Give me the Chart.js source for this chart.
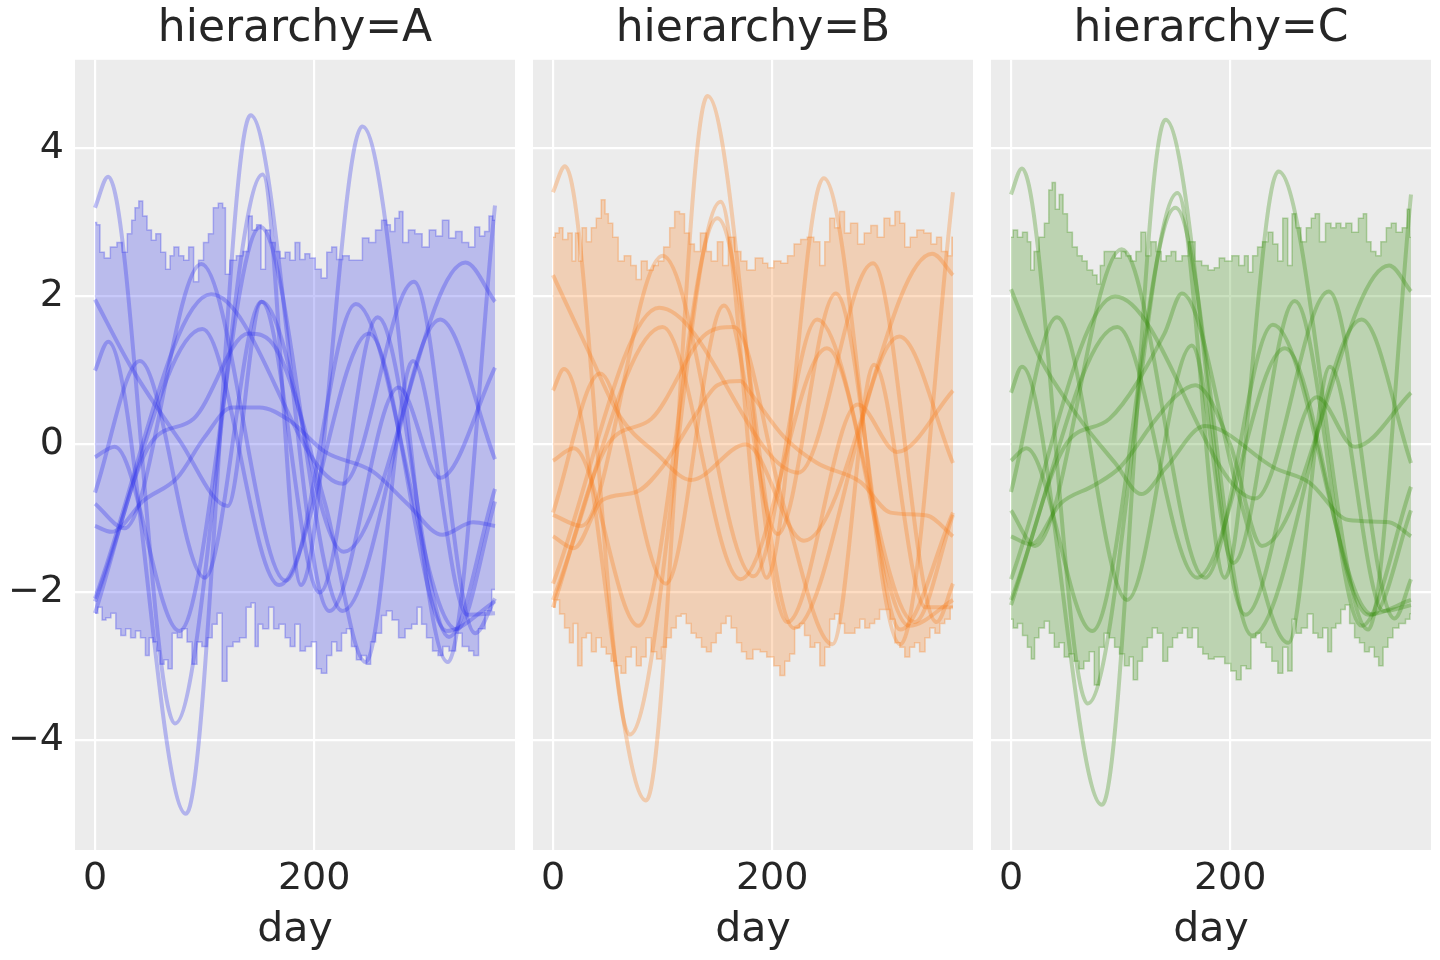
<!DOCTYPE html>
<html>
<head>
<meta charset="utf-8">
<script src="https://cdn.jsdelivr.net/npm/chart.js@4.4.1/dist/chart.umd.min.js"></script>
<style>
    body {margin: 0; background: #fff; width: 1440px; height: 960px; position: relative; overflow: hidden}
    canvas {position: absolute; top: 0}
</style>
</head>
<body>
<canvas id="panelA" width="520" height="960" style="left:0px"></canvas>
<canvas id="panelB" width="445" height="960" style="left:533px"></canvas>
<canvas id="panelC" width="449" height="960" style="left:991px"></canvas>
<script>

// DATA -----------------------------------------------------------------------

const dayTicks = [0, 200]
const valueTicks = [-4, -2, 0, 2, 4]
const panelTitles = ['hierarchy=A', 'hierarchy=B', 'hierarchy=C']

// sample curves, [day, value] (extremes + a few in between)
const linesA = [
    [[0,3.2],[12,3.62],[73,-3.77],[153,3.65],[188,-1.9],[244,4.3],[322,-2.94],[365,3.23]],
    [[0,1.0],[12,1.39],[83,-4.99],[142,4.45],[214,-2.25],[277,0.77],[315,-0.45],[365,1.04]],
    [[0,1.96],[32,1.07],[77,0.06],[121,-0.83],[152,1.93],[227,-1.45],[338,2.46],[365,1.93]],
    [[0,-0.17],[18,-0.03],[77,-2.52],[151,2.94],[226,-2.25],[315,1.69],[365,-0.2]],
    [[0,-0.65],[41,1.13],[100,-1.8],[152,1.93],[205,-2.0],[258,1.72],[323,-2.6],[365,-0.6]],
    [[0,-0.8],[27,-1.13],[97,2.44],[174,-1.84],[238,1.9],[330,-2.5],[365,-0.77]],
    [[0,-1.1],[15,-1.18],[45,-0.75],[75,-0.45],[100,0.1],[125,0.5],[150,0.5],[177,0.33],[210,-0.1],[253,-0.36],[285,-0.8],[317,-1.22],[345,-1.05],[365,-1.1]],
    [[0,-2.08],[106,2.03],[226,-0.53],[291,2.2],[347,-2.55],[365,-2.08]],
    [[0,-2.12],[98,1.56],[168,-1.9],[250,1.5],[321,-2.52],[365,-2.12]],
    [[0,-2.28],[50,0.0],[90,0.35],[140,1.5],[165,1.3],[210,-0.8],[247,-2.94],[290,1.13],[340,-2.3],[365,-2.28]]
]
const linesB = [
    [[0,3.41],[11,3.76],[70,-3.92],[153,3.28],[195,-1.8],[247,3.6],[317,-2.7],[365,3.41]],
    [[0,0.73],[10,1.02],[85,-4.81],[141,4.71],[214,-2.4],[278,0.54],[314,-0.1],[365,0.73]],
    [[0,2.29],[34,1.21],[61,0.38],[95,-0.13],[126,-0.48],[176,0.0],[229,-1.3],[346,2.58],[365,2.29]],
    [[0,-0.22],[19,-0.05],[78,-2.45],[150,3.06],[220,-2.48],[316,1.46],[365,-0.25]],
    [[0,-0.92],[43,0.96],[103,-1.88],[156,1.88],[205,-1.21],[258,2.04],[317,-2.5],[365,-0.92]],
    [[0,-0.95],[26,-1.1],[100,2.55],[183,-1.78],[241,1.69],[330,-2.4],[365,-0.95]],
    [[0,-1.24],[19,-1.4],[45,-0.75],[76,-0.64],[100,-0.3],[130,0.4],[150,0.8],[171,0.86],[180,0.7],[211,0.1],[241,-0.25],[281,-0.51],[308,-0.92],[341,-0.96],[365,-1.24]],
    [[0,-1.88],[97,1.85],[224,-0.38],[292,2.45],[350,-2.4],[365,-1.88]],
    [[0,-2.1],[100,1.59],[171,-1.82],[250,1.3],[325,-2.45],[365,-2.1]],
    [[0,-2.2],[50,0.0],[90,0.35],[140,1.5],[165,1.59],[210,-0.8],[255,-2.7],[293,1.08],[340,-2.2],[365,-2.2]]
]
const linesC = [
    [[0,3.38],[10,3.73],[70,-3.5],[152,3.4],[195,-1.8],[244,3.69],[326,-2.5],[365,3.38]],
    [[0,0.7],[10,1.05],[83,-4.87],[141,4.39],[214,-2.3],[279,0.64],[314,-0.03],[365,0.7]],
    [[0,2.1],[25,1.21],[64,0.32],[95,-0.25],[119,-0.67],[141,-0.32],[177,0.25],[241,-0.32],[272,-0.51],[308,-1.02],[345,-1.05],[365,-1.24]],
    [[0,-0.22],[14,-0.05],[74,-2.52],[150,3.2],[220,-2.58],[320,1.69],[365,-0.25]],
    [[0,-0.64],[42,1.72],[106,-2.1],[165,1.34],[203,-1.6],[259,1.94],[320,-2.45],[365,-0.57]],
    [[0,-0.89],[22,-1.37],[101,2.64],[177,-1.8],[239,1.62],[330,-2.3],[365,-0.89]],
    [[0,-1.24],[18,-1.35],[45,-0.8],[76,-0.55],[100,-0.3],[130,0.3],[150,0.65],[168,0.8],[200,0.0],[229,-1.37],[345,2.42],[365,2.07]],
    [[0,-1.82],[95,2.0],[223,-0.73],[290,2.07],[350,-2.35],[365,-1.82]],
    [[0,-2.1],[97,1.59],[170,-1.8],[250,1.3],[326,-2.3],[365,-2.1]],
    [[0,-2.17],[50,0.0],[90,0.35],[140,1.5],[156,2.04],[210,-0.8],[253,-2.68],[291,1.05],[340,-2.25],[365,-2.17]]
]

// band edges, [day, value]
const bandA_hi = [[0,3.0],[3,2.97],[6,2.6],[11,2.52],[17,2.67],[23,2.73],[27,2.6],[32,2.85],[35,3.03],[38,3.2],[42,3.29],[45,3.09],[50,2.9],[53,2.76],[58,2.85],[62,2.6],[67,2.37],[70,2.55],[74,2.67],[79,2.55],[83,2.49],[88,2.67],[92,2.2],[97,2.49],[101,2.73],[106,2.85],[110,3.2],[115,3.26],[118,3.2],[120,2.3],[126,2.49],[132,2.55],[138,2.61],[142,3.09],[145,2.9],[150,2.97],[153,2.37],[158,2.9],[162,2.73],[167,2.61],[171,2.52],[176,2.6],[180,2.49],[185,2.73],[189,2.5],[194,2.58],[198,2.52],[204,2.37],[209,2.25],[214,2.6],[218,2.67],[223,2.5],[229,2.55],[235,2.49],[241,2.49],[247,2.79],[253,2.73],[259,2.9],[264,3.03],[268,2.97],[271,2.88],[276,3.06],[279,3.15],[283,2.73],[289,2.9],[295,2.85],[302,2.67],[308,2.9],[314,2.82],[320,3.03],[326,2.79],[332,2.88],[338,2.73],[344,2.67],[349,2.94],[353,2.82],[358,2.88],[361,3.09],[365,3.03]]
const bandA_lo = [[0,-2.28],[5,-2.2],[8,-2.37],[12,-2.34],[17,-2.28],[21,-2.49],[26,-2.58],[30,-2.49],[35,-2.61],[39,-2.52],[44,-2.61],[48,-2.85],[51,-2.61],[55,-2.67],[58,-2.79],[61,-2.97],[65,-2.91],[68,-3.03],[73,-2.55],[77,-2.61],[82,-2.49],[86,-2.67],[91,-2.97],[95,-2.67],[100,-2.73],[105,-2.61],[109,-2.43],[114,-2.28],[118,-3.2],[123,-2.73],[129,-2.67],[135,-2.61],[141,-2.2],[144,-2.14],[148,-2.73],[150,-2.43],[156,-2.49],[161,-2.2],[165,-2.49],[171,-2.43],[176,-2.61],[180,-2.73],[185,-2.43],[189,-2.79],[195,-2.73],[200,-2.67],[204,-3.03],[209,-3.09],[214,-2.85],[218,-2.67],[223,-2.79],[227,-2.55],[232,-2.49],[236,-2.73],[241,-2.91],[245,-2.85],[250,-2.97],[253,-2.67],[259,-2.55],[264,-2.31],[268,-2.25],[274,-2.37],[280,-2.61],[286,-2.49],[292,-2.43],[296,-2.2],[300,-2.43],[305,-2.61],[311,-2.79],[315,-2.85],[320,-2.73],[326,-2.79],[332,-2.55],[338,-2.73],[344,-2.79],[347,-2.85],[353,-2.49],[359,-2.25],[365,-1.96]]
const bandB_hi = [[0,2.8],[4,2.86],[7,2.93],[11,2.77],[16,2.86],[19,2.48],[22,2.86],[25,2.48],[28,2.93],[33,2.74],[37,2.93],[42,3.06],[46,3.31],[49,3.12],[52,2.99],[57,2.8],[62,2.48],[68,2.55],[74,2.42],[78,2.23],[83,2.48],[89,2.36],[94,2.42],[98,2.48],[104,2.67],[109,2.93],[113,3.15],[118,3.12],[122,2.86],[127,2.71],[131,2.61],[138,2.86],[142,2.61],[147,2.48],[153,2.74],[157,2.42],[163,2.8],[169,2.61],[174,2.48],[180,2.36],[189,2.52],[194,2.45],[198,2.39],[205,2.48],[211,2.45],[217,2.55],[223,2.71],[229,2.77],[235,2.8],[241,2.74],[246,2.42],[250,2.74],[255,3.06],[259,2.93],[264,3.15],[268,2.86],[275,2.99],[281,2.71],[287,2.86],[293,2.96],[299,2.8],[305,3.06],[310,2.96],[314,3.15],[319,2.99],[323,2.67],[329,2.8],[335,2.9],[342,2.86],[348,2.71],[352,2.8],[357,2.61],[363,2.55],[365,2.8]]
const bandB_lo = [[0,-2.2],[4,-2.1],[8,-2.29],[13,-2.48],[17,-2.68],[20,-2.42],[25,-2.99],[28,-2.61],[33,-2.55],[37,-2.8],[42,-2.61],[46,-2.74],[51,-2.83],[55,-2.93],[60,-2.99],[64,-3.09],[69,-2.87],[74,-2.74],[78,-2.99],[83,-2.87],[87,-2.61],[92,-2.8],[97,-2.9],[101,-2.74],[106,-2.61],[110,-2.48],[115,-2.32],[119,-2.29],[124,-2.42],[128,-2.55],[133,-2.61],[138,-2.74],[142,-2.8],[147,-2.68],[151,-2.55],[156,-2.42],[160,-2.32],[165,-2.48],[170,-2.68],[174,-2.8],[179,-2.9],[186,-2.77],[192,-2.8],[198,-2.87],[205,-2.99],[209,-3.12],[214,-2.93],[218,-2.83],[223,-2.48],[227,-2.42],[232,-2.58],[237,-2.74],[241,-2.68],[246,-2.99],[250,-2.74],[255,-2.36],[259,-2.29],[264,-2.42],[268,-2.55],[273,-2.55],[278,-2.48],[282,-2.36],[287,-2.48],[291,-2.42],[296,-2.36],[300,-2.23],[305,-2.23],[310,-2.36],[314,-2.68],[319,-2.74],[323,-2.87],[328,-2.74],[332,-2.68],[337,-2.8],[342,-2.61],[346,-2.48],[351,-2.55],[355,-2.42],[360,-2.36],[365,-2.2]]
const bandC_hi = [[0,2.8],[4,2.9],[8,2.8],[13,2.87],[17,2.74],[19,2.36],[23,2.61],[28,2.8],[33,2.99],[36,3.44],[39,3.54],[42,3.18],[46,3.38],[49,3.12],[54,2.87],[58,2.67],[63,2.55],[67,2.48],[72,2.36],[77,2.29],[80,2.17],[83,2.42],[87,2.61],[92,2.61],[98,2.52],[103,2.61],[107,2.55],[112,2.48],[116,2.61],[121,2.87],[125,2.55],[130,2.74],[135,2.61],[139,2.48],[144,2.55],[148,2.61],[153,2.48],[159,2.55],[165,2.74],[171,2.48],[177,2.42],[183,2.36],[188,2.39],[192,2.52],[198,2.48],[205,2.55],[211,2.42],[215,2.55],[218,2.33],[223,2.55],[227,2.67],[232,2.74],[237,2.87],[241,2.71],[246,2.48],[250,3.06],[255,2.42],[258,3.12],[262,2.93],[267,2.74],[272,2.93],[276,3.06],[279,3.12],[284,2.74],[290,2.99],[294,2.93],[299,2.99],[303,2.93],[308,2.99],[314,2.87],[320,3.06],[323,3.12],[326,2.74],[331,2.61],[335,2.55],[340,2.74],[345,2.93],[349,2.99],[354,2.87],[360,2.93],[363,3.18],[365,2.8]]
const bandC_lo = [[0,-2.36],[4,-2.48],[8,-2.42],[13,-2.58],[17,-2.74],[20,-2.9],[23,-2.61],[28,-2.48],[33,-2.39],[37,-2.55],[42,-2.74],[46,-2.68],[51,-2.87],[55,-2.83],[60,-2.93],[64,-3.03],[69,-2.93],[74,-2.8],[78,-3.25],[83,-2.74],[87,-2.55],[92,-2.61],[97,-2.74],[101,-2.83],[106,-2.99],[110,-2.87],[113,-3.18],[118,-2.93],[122,-2.74],[127,-2.61],[131,-2.48],[136,-2.55],[141,-2.93],[145,-2.74],[150,-2.61],[154,-2.55],[159,-2.48],[163,-2.61],[168,-2.48],[173,-2.74],[177,-2.83],[183,-2.9],[188,-2.87],[192,-2.87],[198,-2.96],[203,-3.06],[208,-3.18],[212,-2.99],[217,-3.03],[221,-2.61],[226,-2.55],[230,-2.68],[235,-2.74],[241,-2.93],[246,-3.09],[250,-2.74],[255,-3.06],[258,-2.36],[262,-2.55],[268,-2.48],[273,-2.29],[278,-2.55],[282,-2.61],[287,-2.48],[291,-2.8],[294,-2.48],[299,-2.42],[303,-2.23],[307,-2.17],[311,-2.42],[316,-2.61],[320,-2.68],[325,-2.8],[329,-2.74],[334,-2.87],[337,-2.99],[342,-2.74],[346,-2.61],[351,-2.48],[357,-2.42],[363,-2.36],[365,-2.29]]

// SETTINGS -------------------------------------------------------------------

const panelColors = ['42,46,236', '250,124,23', '50,140,6']   // arviz C0, C1, C2
const textColor = '#262626'
const fontFamily = 'DejaVu Sans'
const lineAlpha = 0.3
const bandAlpha = 0.26

Chart.defaults.font.family = fontFamily
Chart.defaults.color = textColor

// HELPER FUNCTIONS -----------------------------------------------------------

function toPoints(pairs) {
    return pairs.map(([x, y]) => ({x: x, y: y}))
}

const panelBackground = {
    id: 'panelBackground',
    beforeDraw(chart) {
        const {ctx, chartArea: a} = chart
        ctx.save()
        ctx.fillStyle = '#ececec'
        ctx.fillRect(a.left, a.top, a.right - a.left, a.bottom - a.top)
        ctx.restore()
    }
}

function getLineDataset(pairs, rgb) {
    return {
        data: toPoints(pairs),
        borderColor: `rgba(${rgb},${lineAlpha})`,
        borderWidth: 4,
        pointRadius: 0,
        cubicInterpolationMode: 'monotone',
        fill: false,
        order: 0
    }
}

function getBandDataset(pairs, rgb, fill, order) {
    return {
        data: toPoints(pairs),
        borderColor: `rgba(${rgb},${lineAlpha})`,
        backgroundColor: `rgba(${rgb},${bandAlpha})`,
        borderWidth: 1.5,
        pointRadius: 0,
        stepped: 'middle',
        fill: fill,
        order: order
    }
}

// CHARTS ---------------------------------------------------------------------

function showPanel(canvasId, title, lines, bandHi, bandLo, rgb, showY, padRight) {
    const datasets = lines.map((l) => getLineDataset(l, rgb))
    datasets.push(getBandDataset(bandHi, rgb, '+1', 10))
    datasets.push(getBandDataset(bandLo, rgb, false, 11))

    new Chart(document.getElementById(canvasId), {
        type: 'line',
        data: {datasets: datasets},
        plugins: [panelBackground],
        options: {
            responsive: false,
            animation: false,
            layout: {padding: {left: 0, right: padRight, top: 0, bottom: 0}},
            plugins: {
                legend: {display: false},
                tooltip: {enabled: false},
                title: {
                    display: true,
                    text: title,
                    fullSize: false,
                    color: textColor,
                    font: {size: 44, weight: 'normal'},
                    padding: {top: 3, bottom: 4}
                }
            },
            scales: {
                x: {
                    type: 'linear',
                    min: -18.25,
                    max: 383.25,
                    afterBuildTicks: (s) => { s.ticks = dayTicks.map((v) => ({value: v})) },
                    afterFit: (s) => { s.height = 110 },
                    grid: {color: '#ffffff', lineWidth: 2.2, drawTicks: false},
                    border: {display: false},
                    ticks: {font: {size: 38}, padding: 6, maxRotation: 0, color: textColor},
                    title: {display: true, text: 'day', color: textColor, font: {size: 41}, padding: {top: 5, bottom: 5}}
                },
                y: {
                    min: -5.48,
                    max: 5.2,
                    afterBuildTicks: (s) => { s.ticks = valueTicks.map((v) => ({value: v})) },
                    afterFit: (s) => { s.width = showY ? 75 : 0 },
                    grid: {color: '#ffffff', lineWidth: 2.2, drawTicks: false},
                    border: {display: false},
                    ticks: {
                        display: showY,
                        font: {size: 38},
                        padding: 11,
                        color: textColor,
                        callback: (v) => `${v}`.replace('-', '\u2212')
                    }
                }
            }
        }
    })
}

showPanel('panelA', panelTitles[0], linesA, bandA_hi, bandA_lo, panelColors[0], true, 5)
showPanel('panelB', panelTitles[1], linesB, bandB_hi, bandB_lo, panelColors[1], false, 5)
showPanel('panelC', panelTitles[2], linesC, bandC_hi, bandC_lo, panelColors[2], false, 9)
</script>
</body>
</html>
